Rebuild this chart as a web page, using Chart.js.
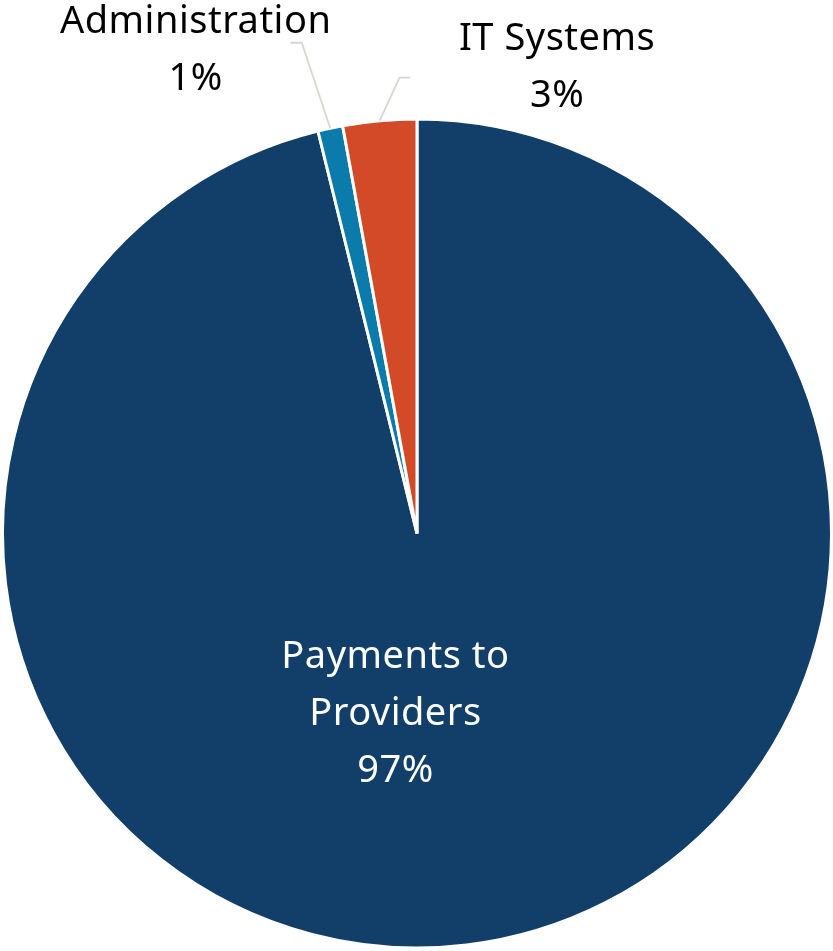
<!DOCTYPE html>
<html>
<head>
<meta charset="utf-8">
<script src="https://cdn.jsdelivr.net/npm/chart.js@4.4.1/dist/chart.umd.min.js"></script>
<style>
  html, body { margin: 0; padding: 0; background: #fff; }
  #wrap { width: 833px; height: 951px; position: relative; }
</style>
</head>
<body>
<div id="wrap"><canvas id="pie"></canvas></div>
<script>
const categories = ['Payments to Providers', 'Administration', 'IT Systems']
const shares = [96.16, 0.97, 2.87]
const shareLabels = ['97%', '1%', '3%']
const sliceColors = ['#123F69', '#0B7BAC', '#D34A29']

const FONT = '"Noto Sans", "Open Sans", sans-serif'

// label layout, relative to the pie centre in radius units
const labelSpots = [
  { dx: -0.052, dy: 0.437, lines: ['Payments to', 'Providers'], color: '#ffffff' },
  { dx: -0.534, dy: -1.166, lines: ['Administration'], color: '#000000', elbow: [-0.278, -1.184], end: [-0.305, -1.184] },
  { dx: 0.338, dy: -1.124, lines: ['IT Systems'], color: '#000000', elbow: [-0.042, -1.1], end: [-0.016, -1.1] }
]

const pieLabels = {
  id: 'pieLabels',
  afterDatasetsDraw(chart) {
    const ctx = chart.ctx
    const meta = chart.getDatasetMeta(0)
    ctx.save()
    meta.data.forEach((arc, i) => {
      const spot = labelSpots[i]
      const r = arc.outerRadius
      const cx = arc.x, cy = arc.y
      if (spot.elbow) {
        const mid = (arc.startAngle + arc.endAngle) / 2
        ctx.beginPath()
        ctx.strokeStyle = '#D9D5D0'
        ctx.lineWidth = 1.8
        ctx.moveTo(cx + Math.cos(mid) * r, cy + Math.sin(mid) * r)
        ctx.lineTo(cx + spot.elbow[0] * r, cy + spot.elbow[1] * r)
        ctx.lineTo(cx + spot.end[0] * r, cy + spot.end[1] * r)
        ctx.stroke()
      }
      const lines = spot.lines.concat([shareLabels[i]])
      const lh = 57
      const x = cx + spot.dx * r
      const y0 = cy + spot.dy * r - (lines.length - 1) * lh / 2
      ctx.fillStyle = spot.color
      ctx.font = '38px ' + FONT
      ctx.letterSpacing = '0.5px'
      ctx.textAlign = 'center'
      ctx.textBaseline = 'middle'
      lines.forEach((t, k) => ctx.fillText(t, x, y0 + k * lh))
    })
    ctx.restore()
  }
}

new Chart(document.getElementById('pie'), {
  type: 'pie',
  data: {
    labels: categories,
    datasets: [{
      data: shares,
      backgroundColor: sliceColors,
      borderColor: '#ffffff',
      borderWidth: 3
    }]
  },
  options: {
    responsive: true,
    maintainAspectRatio: false,
    animation: false,
    layout: { padding: { top: 116, bottom: 0, left: 1, right: 0 } },
    plugins: {
      legend: { display: false },
      tooltip: { enabled: false }
    }
  },
  plugins: [pieLabels]
})
</script>
</body>
</html>
